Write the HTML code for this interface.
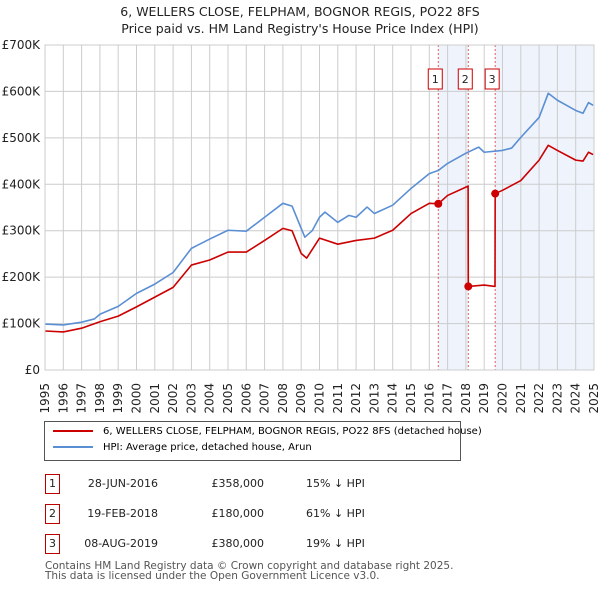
<!DOCTYPE html>
<html><head><meta charset="utf-8">
<style>
body{margin:0;background:#fff;font-family:"DejaVu Sans",sans-serif;}
#wrap{position:relative;width:600px;height:590px;overflow:hidden}
.t{position:absolute;font-size:12px;color:#222}
</style></head><body>
<div id="wrap">
<div class="t" style="left:0;width:600px;text-align:center;top:3px;font-size:12.5px;line-height:17px">6, WELLERS CLOSE, FELPHAM, BOGNOR REGIS, PO22 8FS<br>Price paid vs. HM Land Registry's House Price Index (HPI)</div>
<svg id="chart" width="600" height="420" style="position:absolute;left:0;top:0"></svg>
<div style="position:absolute;left:44px;top:421px;width:415px;height:38px;border:1px solid #555;font-size:10px;white-space:nowrap">
 <div style="position:absolute;left:8px;top:4px"><span style="display:inline-block;width:40px;height:2px;background:#cc0000;vertical-align:middle;margin-right:10px"></span>6, WELLERS CLOSE, FELPHAM, BOGNOR REGIS, PO22 8FS (detached house)</div>
 <div style="position:absolute;left:8px;top:20px"><span style="display:inline-block;width:40px;height:2px;background:#5b8fd4;vertical-align:middle;margin-right:10px"></span>HPI: Average price, detached house, Arun</div>
</div>
<div id="table"></div>
<div class="t" style="left:45px;top:561px;font-size:10.5px;line-height:10px;color:#555">Contains HM Land Registry data © Crown copyright and database right 2025.<br>This data is licensed under the Open Government Licence v3.0.</div>
</div>
<script>
const yTicks=[0,100,200,300,400,500,600,700];
const yLabels=["£0","£100K","£200K","£300K","£400K","£500K","£600K","£700K"];
const xYears=[1995,1996,1997,1998,1999,2000,2001,2002,2003,2004,2005,2006,2007,2008,2009,2010,2011,2012,2013,2014,2015,2016,2017,2018,2019,2020,2021,2022,2023,2024,2025];
const hpiYears=[1995,1996,1997,1997.7,1998,1999,2000,2001,2002,2003,2003.3,2004,2005,2006,2007,2008,2008.5,2009,2009.2,2009.6,2010,2010.3,2011,2011.6,2012,2012.6,2013,2014,2015,2016,2016.5,2017,2018,2018.7,2019,2020,2020.5,2021,2022,2022.5,2023,2023.5,2024,2024.4,2024.7,2024.95];
const hpiVals=[99,97,103,110,120,137,165,185,210,262,268,282,301,299,329,359,353,305,286,300,329,340,318,333,329,351,337,355,391,423,430,445,467,480,469,473,478,501,544,596,581,570,559,553,576,570];
const ppYears=[1995,1996,1997,1998,1999,2000,2001,2002,2003,2004,2005,2006,2007,2008,2008.5,2009,2009.3,2010,2011,2012,2013,2014,2015,2016,2016.49,2017,2018.12,2018.13,2019,2019.59,2019.6,2020,2021,2022,2022.5,2023,2024,2024.4,2024.7,2024.95];
const ppVals=[84,82,90,104,116,136,157,178,226,237,254,254,279,305,300,251,241,284,271,279,284,301,337,359,358,376,396,180,183,180,380,387,408,452,484,473,452,450,469,464];
const saleDates=[2016.49,2018.13,2019.6];
const salePrices=[358,180,380];
const saleLabels=["1","2","3"];
const saleDateText=["28-JUN-2016","19-FEB-2018","08-AUG-2019"];
const salePriceText=["£358,000","£180,000","£380,000"];
const saleHpiText=["15% ↓ HPI","61% ↓ HPI","19% ↓ HPI"];

const X0=45,X1=594,Y0=370,Y1=45;
const xs=y=>X0+(y-1995)/30*(X1-X0);
const ys=v=>Y0-v/700*(Y0-Y1);
const NS="http://www.w3.org/2000/svg";
const svg=document.getElementById('chart');
const FF='DejaVu Sans, sans-serif';
function mk(tag,attrs,parent){const e=document.createElementNS(NS,tag);for(const k in attrs)e.setAttribute(k,attrs[k]);(parent||svg).appendChild(e);return e;}
let r1=mk('rect',{x:xs(saleDates[0]),y:Y1,width:xs(saleDates[1])-xs(saleDates[0]),height:Y0-Y1,fill:'#eef3fc'});


let r2=mk('rect',{x:xs(saleDates[2]),y:Y1,width:X1-xs(saleDates[2]),height:Y0-Y1,fill:'#eef3fc'});


xYears.forEach((yr,i)=>{
 const l=mk('line',{x1:xs(yr),x2:xs(yr),y1:Y1,y2:Y0,stroke:'#cccccc','stroke-width':1});
 
 
 const x=xs(yr)+4;
 const t=mk('text',{x:x,y:383,'text-anchor':'end','font-size':12,fill:'#222','font-family':FF,transform:'rotate(-90 '+x+' 383)'});
 t.textContent=yr;
 
 
});
yTicks.forEach((v,i)=>{
 const l=mk('line',{x1:X0,x2:X1,y1:ys(v),y2:ys(v),stroke:'#cccccc','stroke-width':1});
 
 
 const t=mk('text',{x:40,y:ys(v)+4,'text-anchor':'end','font-size':12,fill:'#222','font-family':FF});
 t.textContent=yLabels[i];
 
 
});
saleDates.forEach((d,i)=>{
 const l=mk('line',{x1:xs(d),x2:xs(d),y1:Y1,y2:Y0,stroke:'#e06060','stroke-width':1,'stroke-dasharray':'2,2'});
 
 
 const bx=xs(d)-3-7;
 const b=mk('rect',{x:bx,y:69,width:14,height:20,fill:'#fff',stroke:'#cc0000','stroke-width':1});
 
 
 const t=mk('text',{x:bx+7,y:83,'text-anchor':'middle','font-size':11,fill:'#222','font-family':FF});
 t.textContent=saleLabels[i];
 
 
});
const hp=mk('polyline',{points:hpiYears.map((y,i)=>xs(y)+','+ys(hpiVals[i])).join(' '),fill:'none',stroke:'#5b8fd4','stroke-width':1.6,'stroke-linejoin':'round'});


const pp=mk('polyline',{points:ppYears.map((y,i)=>xs(y)+','+ys(ppVals[i])).join(' '),fill:'none',stroke:'#cc0000','stroke-width':1.6,'stroke-linejoin':'round'});


saleDates.forEach((d,i)=>{
 const c=mk('circle',{cx:xs(d),cy:ys(salePrices[i]),r:4,fill:'#cc0000'});
 
 
});
mk('rect',{x:X0,y:Y1,width:X1-X0,height:Y0-Y1,fill:'none',stroke:'#cccccc'});
const tb=document.getElementById('table');
const rowY=[474,504,534];
saleLabels.forEach((s,i)=>{
 const row=document.createElement('div');
 
 
 row.style.cssText='position:absolute;left:0;top:'+rowY[i]+'px;width:600px;height:20px;font-size:11px;color:#222';
 row.innerHTML='<span style="position:absolute;left:45px;top:0;width:13px;height:18px;border:1px solid #b00;text-align:center;line-height:17px">'+s+'</span>'+
  '<span style="position:absolute;right:442px;top:3px">'+saleDateText[i]+'</span>'+
  '<span style="position:absolute;right:336px;top:3px">'+salePriceText[i]+'</span>'+
  '<span style="position:absolute;left:306px;top:3px">'+saleHpiText[i]+'</span>';
 tb.appendChild(row);
});
</script>
</body></html>
